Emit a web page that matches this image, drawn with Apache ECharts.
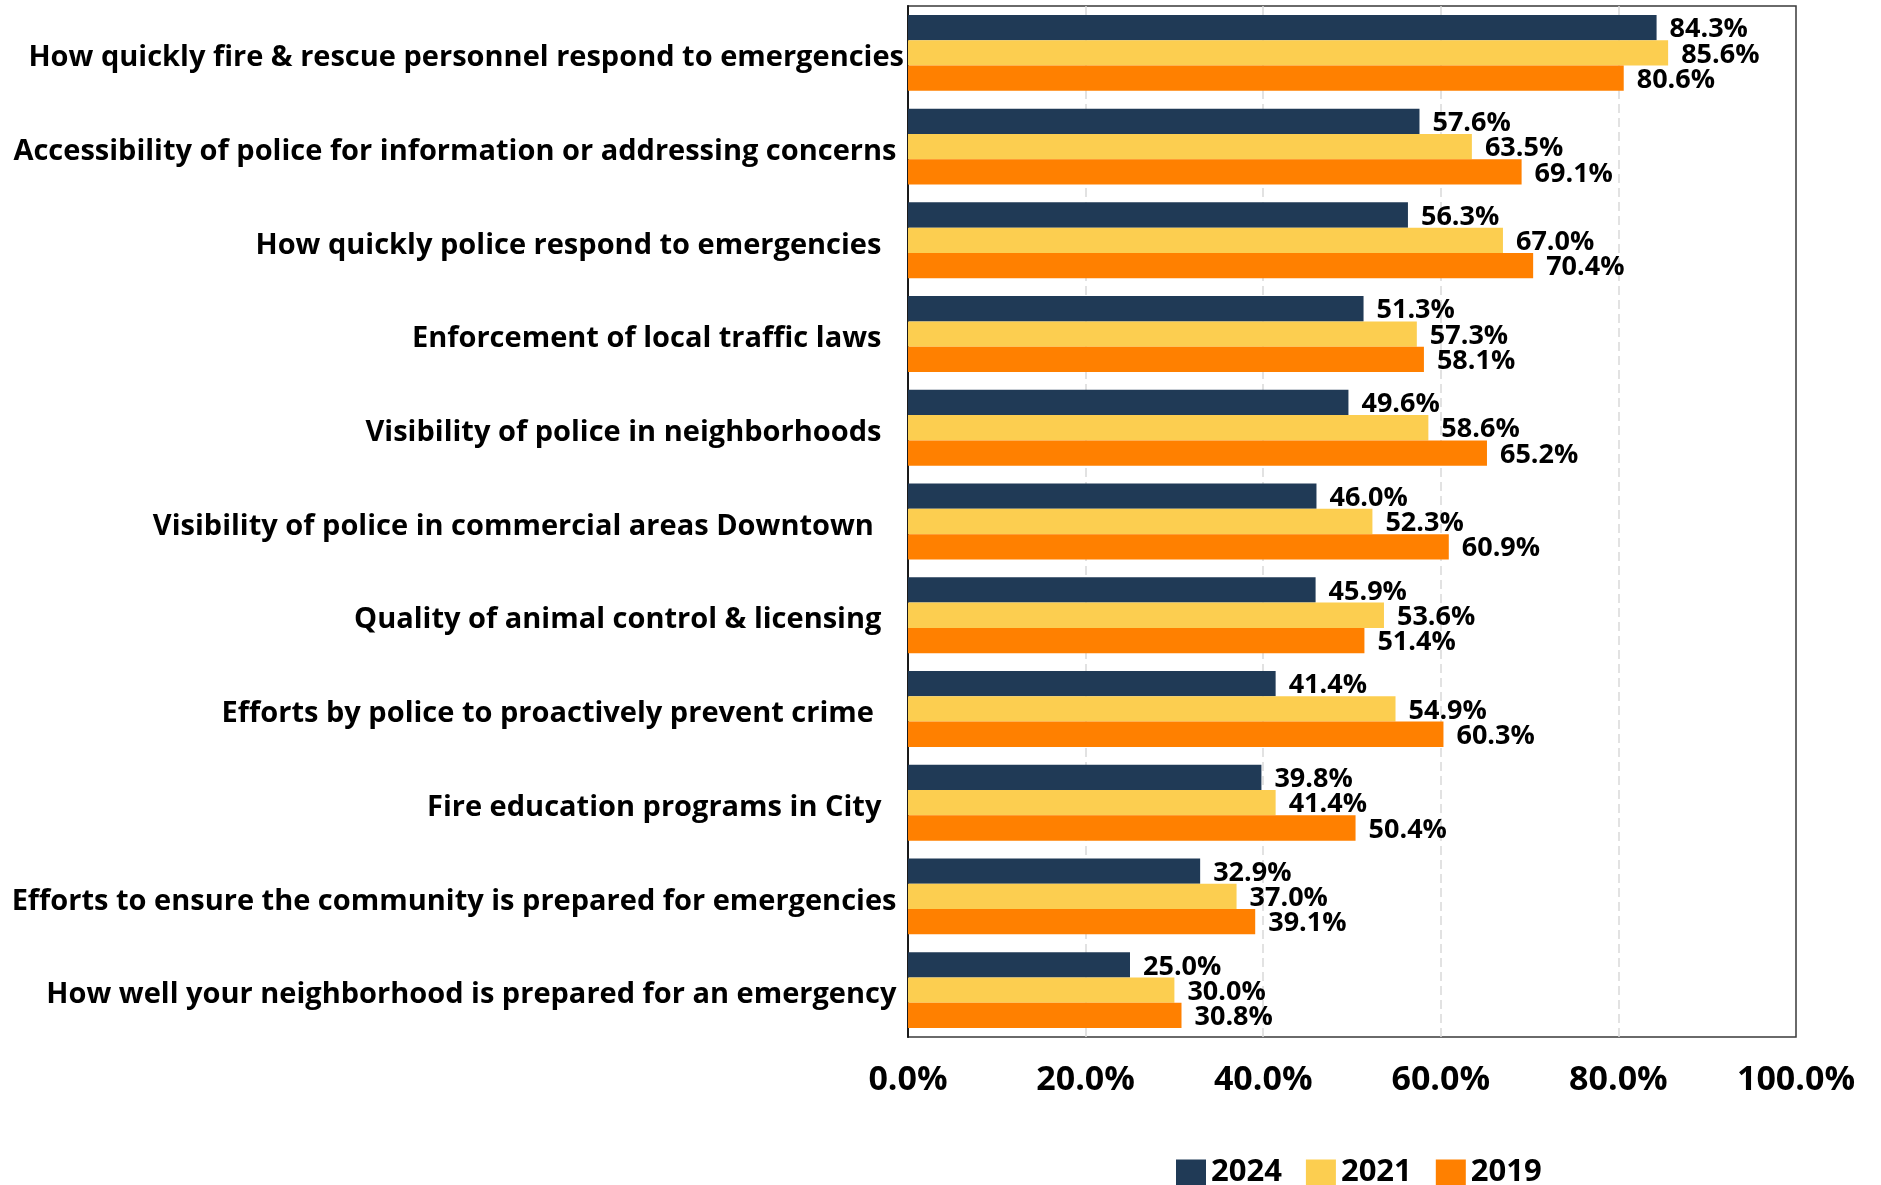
<!DOCTYPE html>
<html>
<head>
<meta charset="utf-8">
<script src="https://cdn.jsdelivr.net/npm/echarts@6/dist/echarts.min.js"></script>
<style>
  html, body { margin: 0; padding: 0; background: #ffffff; }
  #chart { width: 1881px; height: 1185px; }
</style>
</head>
<body>
<div id="chart"></div>
<script>
// Survey items (top to bottom); trailing spaces come from the source wording
const categories = [
  'How quickly fire & rescue personnel respond to emergencies',
  'Accessibility of police for information or addressing concerns ',
  'How quickly police respond to emergencies   ',
  'Enforcement of local traffic laws   ',
  'Visibility of police in neighborhoods   ',
  'Visibility of police in commercial areas Downtown    ',
  'Quality of animal control & licensing   ',
  'Efforts by police to proactively prevent crime    ',
  'Fire education programs in City   ',
  'Efforts to ensure the community is prepared for emergencies ',
  'How well your neighborhood is prepared for an emergency '
];

const years = ['2024', '2021', '2019'];

const values2024 = [84.3, 57.6, 56.3, 51.3, 49.6, 46.0, 45.9, 41.4, 39.8, 32.9, 25.0];
const values2021 = [85.6, 63.5, 67.0, 57.3, 58.6, 52.3, 53.6, 54.9, 41.4, 37.0, 30.0];
const values2019 = [80.6, 69.1, 70.4, 58.1, 65.2, 60.9, 51.4, 60.3, 50.4, 39.1, 30.8];

const xTicks = [0, 20, 40, 60, 80, 100];

const colors = ['#203a56', '#fcce50', '#ff8000'];
const FONT = '"Open Sans"';

const chart = echarts.init(document.getElementById('chart'), null, { renderer: 'canvas' });

function barSeries(name, data, color) {
  return {
    name: name,
    type: 'bar',
    data: data,
    barGap: '0%',
    barCategoryGap: '19%',
    itemStyle: { color: color },
    label: {
      show: true,
      position: 'right',
      distance: 13,
      offset: [0, 2],
      color: '#000000',
      fontFamily: FONT,
      fontWeight: 'bold',
      fontSize: 27,
      formatter: p => p.value.toFixed(1) + '%'
    }
  };
}

chart.setOption({
  animation: false,
  backgroundColor: '#ffffff',
  grid: {
    left: 908,
    right: 85,
    top: 6,
    bottom: 148,
    show: true,
    borderColor: '#3a3a3a',
    borderWidth: 1.5,
    containLabel: false
  },
  legend: {
    data: years,
    left: 1176,
    top: 1157,
    padding: 0,
    itemWidth: 30,
    itemHeight: 26,
    itemGap: 24,
    icon: 'rect',
    textStyle: {
      fontFamily: FONT,
      fontWeight: 'bold',
      fontSize: 31,
      color: '#000000'
    }
  },
  xAxis: {
    type: 'value',
    min: xTicks[0],
    max: xTicks[xTicks.length - 1],
    interval: xTicks[1] - xTicks[0],
    axisLine: { show: false },
    axisTick: { show: false },
    splitLine: {
      show: true,
      showMinLine: false,
      showMaxLine: false,
      lineStyle: { color: '#d9d9d9', width: 1.5, type: [9, 5] }
    },
    axisLabel: {
      margin: 26,
      fontFamily: FONT,
      fontWeight: 'bold',
      fontSize: 34,
      color: '#000000',
      formatter: v => v.toFixed(1) + '%'
    }
  },
  yAxis: {
    type: 'category',
    data: categories,
    inverse: true,
    axisLine: { show: true, lineStyle: { color: '#1a1a1a', width: 2 } },
    axisTick: { show: false },
    axisLabel: {
      margin: 4,
      formatter: v => '{cat|' + v + '}',
      rich: {
        cat: {
          padding: [10, 0, 0, 0],
          fontFamily: FONT,
          fontWeight: 'bold',
          fontSize: 29,
          color: '#000000'
        }
      }
    }
  },
  series: [
    barSeries(years[0], values2024, colors[0]),
    barSeries(years[1], values2021, colors[1]),
    barSeries(years[2], values2019, colors[2])
  ]
});
</script>
</body>
</html>
